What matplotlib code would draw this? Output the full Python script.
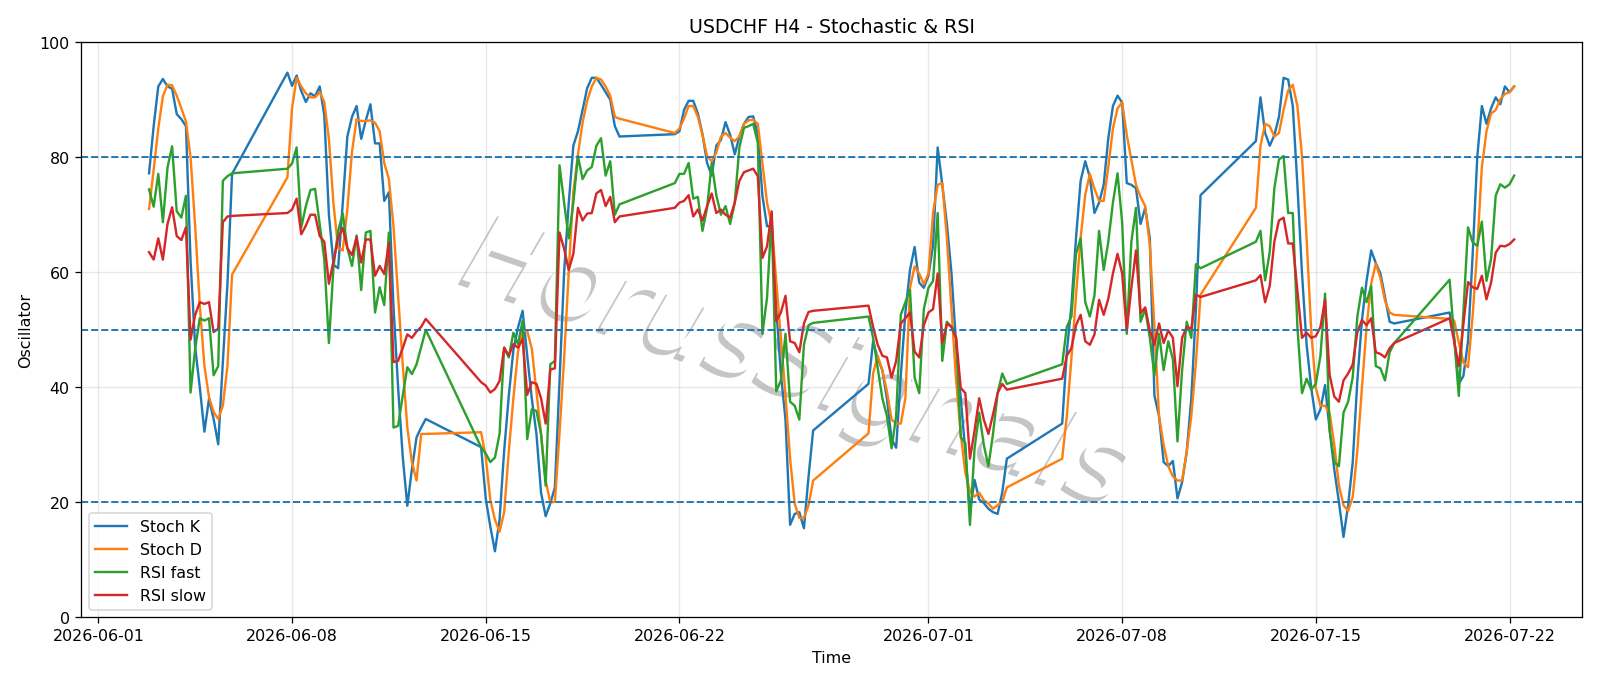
import matplotlib
matplotlib.use("Agg")
import matplotlib.pyplot as plt
import matplotlib.dates as mdates
import matplotlib.patheffects as pe
import pandas as pd

# H4 bars, forex week: Sunday 20:00 open .. Friday 20:00 last bar
times = pd.date_range("2026-06-02 20:00", "2026-07-22 04:00", freq="4h")
wd = times.dayofweek
times = times[~((wd == 5) | ((wd == 6) & (times.hour < 20)))]

# one row per trading week
stoch_k = [
    77.2, 85.4, 92.3, 93.6, 92.3, 91.9, 87.5, 86.6, 85.4, 62, 47, 40, 32.3, 38, 34.5, 30.1, 44.4, 58, 77.1,
    94.7, 92.4, 94.2, 91.5, 89.6, 91.1, 90.6, 92.3, 87.3, 70, 61.3, 60.7, 72, 83.6, 87, 88.9, 83.2, 86.4, 89.2, 82.4, 82.4, 72.4, 73.9, 54, 40, 28, 19.4, 25.8, 31.3, 33, 34.5,
    29.6, 20.7, 15.8, 11.5, 17, 29, 38.5, 46.5, 50.4, 53.3, 45.5, 38, 31.9, 21.7, 17.6, 19.8, 22.6, 41, 60, 72, 82, 84.5, 88.2, 92, 93.8, 93.8, 92.6, 91.3, 90, 85.4, 83.6,
    84, 84.5, 88.2, 89.8, 89.8, 87.6, 84, 79, 76.8, 82, 83, 86.1, 83.9, 80.5, 83.6, 85.8, 87, 87.1, 83.9, 73.3, 68, 68, 53.6, 42.4, 34.4, 16.1, 18, 18.3, 15.5, 24.5, 32.5,
    40.6, 48, 45, 43, 38, 31, 29.5, 42, 53, 60.4, 64.4, 58.2, 57.3, 59.4, 64.7, 81.7, 75.2, 68.4, 59.8, 47.4, 38.1, 28.8, 18.3, 23.9, 20.5, 19.9, 18.9, 18.3, 18, 21.7, 27.6,
    33.7, 46.1, 54.2, 66, 75.9, 79.3, 76.5, 70.3, 72.1, 75.2, 83.3, 88.9, 90.7, 89.5, 75.5, 75.2, 74.6, 68.4, 71.2, 65.9, 38.6, 35, 27, 26.3, 27.2, 20.7, 23.5, 28.8, 38.1, 53.6, 73.4,
    82.8, 90.4, 84.2, 82, 83.8, 87, 93.8, 93.5, 88.9, 75.2, 59.8, 47.4, 39.9, 34.4, 36.2, 40.4, 32.5, 25.7, 20.1, 14, 19.5, 27, 41.2, 51.7, 58.5, 63.8, 61.6, 59.8, 55.7, 51.4, 51.1,
    53, 48.4, 40.6, 42, 48, 63, 80, 88.9, 85.8, 88.5, 90.4, 89.2, 92.3, 91.3, 92.3,
]
stoch_d = [
    71, 77.8, 85, 90.6, 92.6, 92.5, 90.7, 88.5, 86.2, 80, 68, 54.3, 43.7, 38.3, 35.7, 34.5, 36.8, 43.7, 59.6,
    76.5, 88.5, 93.8, 92.3, 91.1, 90.4, 90.4, 91.3, 89.6, 83.1, 71.8, 64.2, 63.8, 71, 80.9, 86.6, 86.3, 86.3, 86.4, 86, 84.5, 79, 76.2, 68, 56, 44, 33, 27, 23.8, 31.9, 31.9,
    32.2, 27.9, 20.4, 17, 14.9, 18.3, 28.8, 38.1, 46.2, 49.7, 49.8, 46.7, 39.3, 31.9, 23.8, 20, 20.1, 32, 45, 60, 74, 80.5, 86, 89.8, 92.3, 93.8, 93.5, 92.3, 90.7, 87, 86.7,
    84.2, 85, 86.7, 88.9, 88.9, 87, 83.9, 80.2, 79.3, 80.8, 83.6, 84.2, 83.4, 82.8, 83.6, 85.8, 86.4, 86.5, 85.8, 79, 72.1, 68.4, 58.6, 48.6, 38.7, 27.6, 19.8, 17.3, 17.3, 19.5, 23.8,
    32, 42.4, 45.5, 43, 39.3, 34.4, 33.7, 33.7, 38.1, 57.3, 61, 59.8, 57.9, 59.8, 70.3, 75.2, 75.5, 65.9, 53.6, 41.2, 31.9, 25.1, 22, 21, 21.7, 20.4, 19.8, 18.9, 19.5, 20.1, 22.6,
    27.6, 35, 45, 56, 66, 73.5, 77.1, 74.5, 72.4, 72.4, 78.3, 85, 88.5, 89.5, 83.9, 79.6, 75.2, 73.1, 71.5, 64.7, 50.5, 35, 30, 26.3, 24.5, 23.8, 23.8, 28.8, 35, 44.3, 56.1,
    71.2, 82, 85.8, 85.4, 83.6, 84.2, 88.2, 91.6, 92.6, 88.9, 80.2, 65.9, 49.8, 39.9, 36.8, 36.8, 35.5, 30, 23, 19.5, 18.5, 21, 29, 40, 50.5, 58, 61.5, 59, 55, 53, 52.6,
    51.9, 51.6, 47.8, 44.3, 43.5, 52.4, 64, 78.3, 84.5, 87.6, 88.2, 90.1, 91, 91.3, 92.3,
]
rsi_fast = [
    74.4, 71.4, 77.1, 68.7, 78.2, 81.9, 70.6, 69.5, 73.3, 39.1, 46.7, 52, 51.6, 52, 42.1, 43.7, 75.9, 76.7, 77.2,
    78.0, 78.9, 81.7, 67.8, 71.5, 74.3, 74.5, 68.4, 62.2, 47.7, 61, 67.2, 70.2, 64.2, 61.1, 66.4, 56.9, 66.9, 67.2, 53, 57.4, 54.3, 66.9, 33, 33.3, 38.5, 43.5, 42.3, 44, 47, 50,
    29.6, 28.5, 27, 27.8, 31.9, 46.9, 45.2, 49.5, 47.5, 51.6, 31, 36.2, 35.9, 31.9, 22.9, 44, 44.6, 78.6, 72.1, 65.9, 72.1, 80.2, 76.2, 77.7, 78.3, 82, 83.3, 76.8, 79.3, 70, 71.8,
    75.5, 77.1, 77.1, 79, 72.8, 73.1, 67.2, 71.2, 79, 73.4, 70, 71.5, 68.4, 72.1, 81.7, 85.1, 85.4, 85.8, 82.5, 49.3, 55.6, 70, 39.3, 41.2, 49.3, 37.5, 36.8, 34.4, 47.4, 50.8, 51.2,
    52.3, 48.6, 43.3, 38.1, 35, 29.4, 35, 52.6, 54.8, 56.9, 41.7, 39, 53.6, 57.3, 58.5, 70.3, 44.6, 51.4, 50.5, 48.6, 31.3, 30.3, 16.1, 29.4, 35.6, 30, 26.3, 31.9, 39, 42.4, 40.6,
    44, 50.5, 52.3, 63.2, 65.9, 54.8, 52.3, 56, 67.2, 60.4, 65.3, 72.1, 77.2, 68.7, 49.3, 65.3, 71.2, 51.4, 53.6, 48.6, 42.1, 49.3, 43, 48, 44.9, 30.6, 43, 51.4, 48.6, 61.4, 60.7,
    65.3, 67.2, 58.6, 63.5, 74.6, 79.6, 80.2, 70.3, 70.3, 50.5, 39, 41.5, 39.6, 40.6, 45.5, 56.3, 32.5, 27, 26.3, 35.6, 37.5, 41.8, 52.3, 57.3, 54.8, 57.6, 43.7, 43.3, 41.2, 46.1, 47.7,
    58.7, 48.5, 38.5, 53, 67.8, 65.2, 64.6, 68.8, 58.5, 62.3, 73.3, 75.3, 74.7, 75.3, 76.8,
]
rsi_slow = [
    63.5, 62.2, 65.9, 62.2, 68.4, 71.3, 66.3, 65.6, 67.8, 48.3, 52.6, 54.8, 54.5, 54.8, 49.6, 50.2, 68.7, 69.7, 69.8,
    70.3, 70.9, 72.8, 66.6, 68.1, 70, 70, 66.3, 65.3, 58, 62, 66, 67.7, 64.2, 63, 66.1, 61.7, 65.7, 65.7, 59.4, 61.1, 59.7, 65.1, 44.4, 44.6, 46.8, 49.2, 48.6, 49.7, 50.5, 51.9,
    40.9, 40.3, 39.1, 39.7, 41.1, 46.9, 45.5, 47.5, 46.9, 48.4, 38.7, 40.9, 40.6, 38.1, 33.7, 43.1, 43.3, 66.9, 64.1, 60.4, 63.2, 71.2, 69, 70.2, 70.3, 73.7, 74.3, 71.5, 73.1, 68.7, 69.7,
    71.2, 72.1, 72.4, 73.4, 69.7, 70.9, 69, 71.5, 73.7, 70.3, 70.9, 70, 69.5, 72.1, 75.9, 77.4, 77.7, 78, 76.7, 62.5, 64.5, 70.6, 51.5, 53, 55.9, 48, 47.7, 46.1, 51.1, 53.1, 53.3,
    54.2, 50.5, 47.4, 45.5, 45.2, 41.7, 44.6, 51.1, 52, 53, 46.2, 45.2, 50.8, 53, 53.6, 59.8, 47.7, 51.1, 50.5, 48.6, 39.9, 39, 27.6, 32.5, 38.1, 34.4, 31.9, 35.3, 39, 40.6, 39.6,
    41.5, 45.5, 46.8, 50.8, 52.6, 48, 47.4, 49.2, 55.2, 52.6, 55.4, 59.8, 63.2, 59.8, 49.9, 57.3, 63.8, 52.9, 53.9, 49.9, 47.4, 51.1, 47.7, 49.9, 48.6, 40.2, 48.6, 50.5, 50.2, 56.1, 55.7,
    58.6, 59.5, 54.8, 57.6, 65.3, 69, 69.5, 65, 65, 56.7, 48.6, 49.5, 48.6, 48.9, 50.5, 55.2, 42.1, 38.4, 37.5, 41.2, 42.4, 44, 49.6, 51.7, 50.8, 52, 46.1, 45.8, 45.2, 46.8, 47.7,
    52, 48, 43.7, 51, 58.3, 57.4, 57.1, 59.4, 55.3, 58.2, 63.4, 64.6, 64.5, 64.9, 65.7,
]
levels = [80, 50, 20]

fig, ax = plt.subplots(figsize=(14, 6))
fig.subplots_adjust(left=0.0505, right=0.989, top=0.9375, bottom=0.0985)

ax.plot(times, stoch_k, label="Stoch K")
ax.plot(times, stoch_d, label="Stoch D")
ax.plot(times, rsi_fast, label="RSI fast")
ax.plot(times, rsi_slow, label="RSI slow")
for lv in levels:
    ax.axhline(lv, linestyle="--", linewidth=1.2)

ax.set_ylim(0, 100)
ax.set_title("USDCHF H4 - Stochastic & RSI")
ax.set_xlabel("Time")
ax.set_ylabel("Oscillator")
ax.grid(True, alpha=0.3)
ax.xaxis.set_major_locator(mdates.DayLocator(bymonthday=[1, 8, 15, 22]))
ax.xaxis.set_major_formatter(mdates.DateFormatter("%Y-%m-%d"))
ax.legend(loc="lower left")

# watermark (under the lines)
ax.text(0.477, 0.44, "HorusSignals", transform=ax.transAxes, fontsize=67,
        color="white", style="italic", rotation=-19, ha="center", va="center",
        path_effects=[pe.withSimplePatchShadow(offset=(-3, -3), shadow_rgbFace="gray", alpha=0.45)],
        zorder=1)

plt.savefig("out.png", dpi=1600 / 14)
plt.close()
